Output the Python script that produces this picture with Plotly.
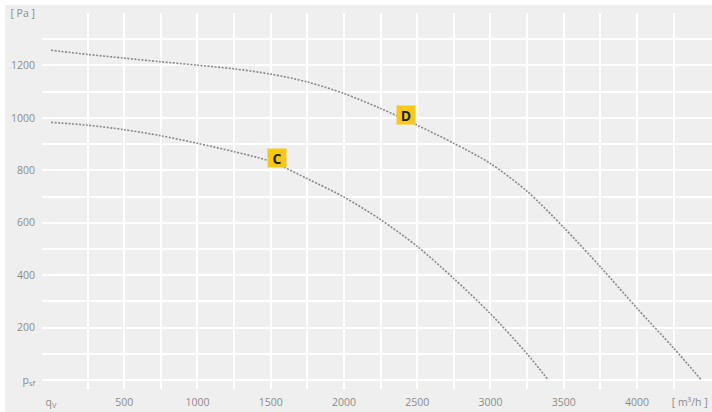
import plotly.graph_objects as go

# --- data ---
flow_D = [0, 250, 500, 750, 1000, 1250, 1500, 1750, 2000, 2250, 2500, 2750, 3000, 3250, 3500, 3750, 4000, 4250, 4440]
pres_D = [1258, 1242, 1228, 1214, 1201, 1187, 1167, 1137, 1093, 1036, 972, 903, 826, 720, 582, 432, 274, 122, 0]

flow_C = [0, 250, 500, 750, 1000, 1250, 1500, 1750, 2000, 2250, 2500, 2750, 3000, 3250, 3395]
pres_C = [983, 972, 955, 932, 903, 871, 834, 768, 698, 612, 510, 387, 253, 100, 0]

curve_names = ["C", "D"]
label_pos_C = (1543, 846)
label_pos_D = (2420, 1011)

x_tickvals = [0, 500, 1000, 1500, 2000, 2500, 3000, 3500, 4000, 4360]
x_ticktext = ["q<sub>V</sub>", "500", "1000", "1500", "2000", "2500", "3000", "3500", "4000", "[ m³/h ]"]
y_tickvals = [0, 200, 400, 600, 800, 1000, 1200, 1400]
y_ticktext = ["p<sub>sf</sub>", "200", "400", "600", "800", "1000", "1200", "[ Pa ]"]
x_grid = list(range(250, 4251, 250))
y_grid = list(range(0, 1401, 100))

LINE = "#8a8a8a"
BG = "#efefef"
TXT = "#8c8c8c"
GOLD = "#f7c816"

fig = go.Figure()
for xs, ys in [(flow_C, pres_C), (flow_D, pres_D)]:
    fig.add_trace(go.Scatter(x=xs, y=ys, mode="lines",
                             line=dict(color=LINE, width=1.6, dash="2px,1.5px", shape="spline", smoothing=0.8),
                             hoverinfo="skip", showlegend=False))

for name, (lx, ly) in zip(curve_names, [label_pos_C, label_pos_D]):
    fig.add_annotation(x=lx, y=ly, text="<b>%s</b>" % name, showarrow=False, bgcolor=GOLD,
                       width=18, height=18, borderpad=0, align="center", valign="middle",
                       font=dict(family="Open Sans", size=14, color="#222222"))

fig.add_shape(type="rect", xref="paper", yref="paper", x0=-37/670, x1=1.0, y0=-23/376, y1=(389-5)/376,
              fillcolor=BG, line=dict(width=0), layer="below")

fig.update_layout(
    width=712, height=412,
    margin=dict(l=42, r=0, t=13, b=23),
    paper_bgcolor="white", plot_bgcolor="rgba(0,0,0,0)",
    font=dict(family="Open Sans", size=10.5, color=TXT),
    xaxis=dict(range=[-61, 4512], tickvals=x_tickvals, ticktext=x_ticktext, showgrid=False, zeroline=False,
               ticks="outside", ticklen=3, tickcolor="rgba(0,0,0,0)", showline=False,
               ticklabeloverflow="allow",
               minor=dict(tickvals=x_grid, showgrid=True, gridcolor="white", gridwidth=1.6, ticks=""),
               automargin=False, fixedrange=True),
    yaxis=dict(range=[-34, 1400], tickvals=y_tickvals, ticktext=y_ticktext, showgrid=False, zeroline=False,
               ticks="outside", ticklen=4, tickcolor="rgba(0,0,0,0)", showline=False,
               ticklabeloverflow="allow",
               minor=dict(tickvals=y_grid, showgrid=True, gridcolor="white", gridwidth=1.6, ticks=""),
               automargin=False, fixedrange=True),
)

fig.write_html("out.html", config={"displayModeBar": False},
               post_script="document.body.style.margin='0';document.body.style.padding='0';")
